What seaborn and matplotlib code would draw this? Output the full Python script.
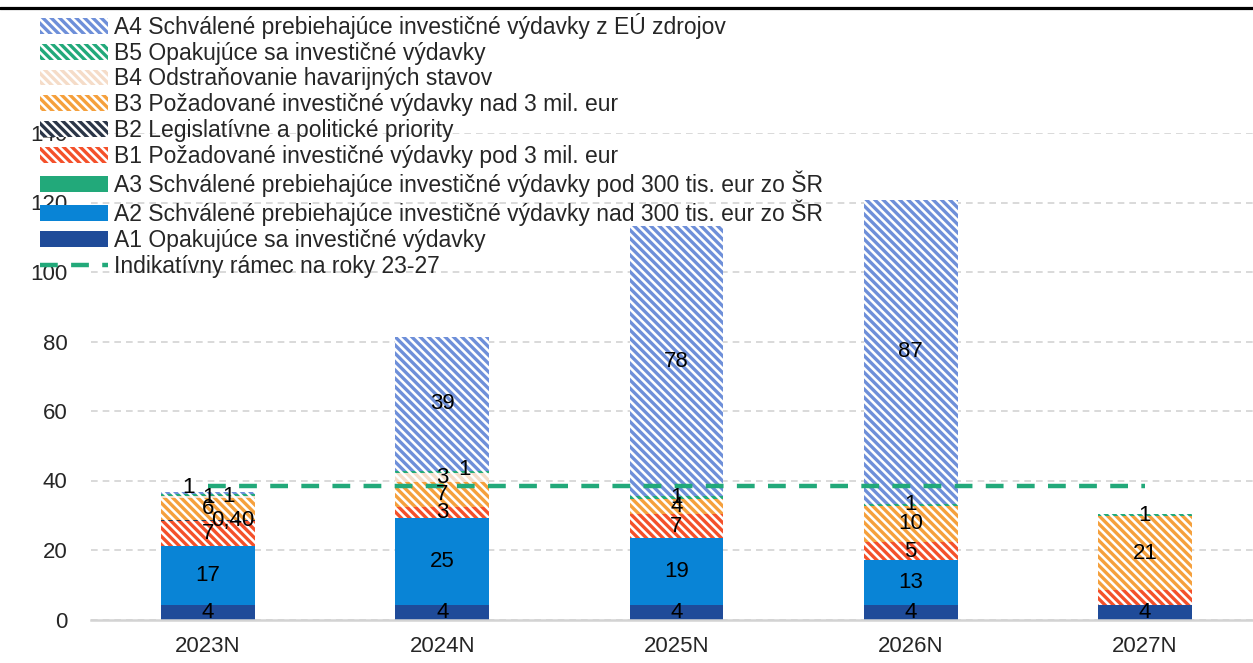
import numpy as np
import matplotlib
matplotlib.use("Agg")
import matplotlib.pyplot as plt
from matplotlib.lines import Line2D
import seaborn as sns

# Data (mil. eur), stacked bottom -> top
years = ["2023N", "2024N", "2025N", "2026N", "2027N"]

a1 = [4.2, 4.2, 4.2, 4.2, 4.2]
a2 = [16.9, 25.0, 19.3, 12.9, 0.0]
a3 = [0.0, 0.0, 0.0, 0.0, 0.0]
b1 = [7.2, 3.2, 6.8, 5.2, 4.3]
b2 = [0.4, 0.0, 0.0, 0.0, 0.0]
b3 = [6.2, 7.2, 4.4, 10.4, 21.2]
b4 = [0.6, 2.6, 0.0, 0.0, 0.0]
b5 = [0.6, 0.6, 0.7, 0.6, 0.6]
a4 = [0.6, 38.6, 77.8, 87.4, 0.0]
ramec = [38.4, 38.4, 38.4, 38.4, 38.4]

HATCH = "\\\\\\\\"
series = [
    ("A1", "A1 Opakujúce sa investičné výdavky", a1, "#1F4B99", None),
    ("A2", "A2 Schválené prebiehajúce investičné výdavky nad 300 tis. eur zo ŠR", a2, "#0984D6", None),
    ("A3", "A3 Schválené prebiehajúce investičné výdavky pod 300 tis. eur zo ŠR", a3, "#22A97A", None),
    ("B1", "B1 Požadované investičné výdavky pod 3 mil. eur", b1, "#F4502A", HATCH),
    ("B2", "B2 Legislatívne a politické priority", b2, "#2B3648", HATCH),
    ("B3", "B3 Požadované investičné výdavky nad 3 mil. eur", b3, "#F5A03C", HATCH),
    ("B4", "B4 Odstraňovanie havarijných stavov", b4, "#F5DCC8", HATCH),
    ("B5", "B5 Opakujúce sa investičné výdavky", b5, "#22A97A", HATCH),
    ("A4", "A4 Schválené prebiehajúce investičné výdavky z EÚ zdrojov", a4, "#6E8FD9", HATCH),
]
line_label = "Indikatívny rámec na roky 23-27"

# labels that sit beside the bar in the original (offsets in points)
label_offsets = {
    ("A4", "2023N"): (-14, 4),
    ("B5", "2023N"): (15, -1),
    ("B2", "2023N"): (18, 0),
    ("B5", "2024N"): (16, 2),
}
hidden_labels = {("B1", "2027N")}

sns.set_theme(style="white")
plt.rcParams["font.family"] = ["Liberation Sans", "DejaVu Sans"]
plt.rcParams["hatch.linewidth"] = 2.4

fig = plt.figure(figsize=(12.53, 6.63), dpi=100)
ax = fig.add_axes([91 / 1253, 1 - 619.5 / 663, 1171 / 1253, 486.5 / 663])

bottom = np.zeros(len(years))
handles = {}
for key, label, vals, color, hatch in series:
    vals = np.array(vals, dtype=float)
    if hatch:
        sns.barplot(x=years, y=vals, bottom=bottom, width=0.4, ax=ax, color=color,
                    saturation=1, facecolor="white", edgecolor=color, hatch=hatch,
                    linewidth=0, errorbar=None, label=label)
    else:
        sns.barplot(x=years, y=vals, bottom=bottom, width=0.4, ax=ax, color=color,
                    saturation=1, edgecolor=color, linewidth=0,
                    errorbar=None, label=label)
    handles[key] = ax.containers[-1]

    for i, (v, b) in enumerate(zip(vals, bottom)):
        if v <= 0 or (key, years[i]) in hidden_labels:
            continue
        txt = f"{v:.2f}".replace(".", ",") if v < 0.5 else str(int(np.floor(v + 0.5)))
        dx, dy = label_offsets.get((key, years[i]), (0, 0))
        ax.annotate(txt, (i, b + v / 2), xytext=(dx, dy), textcoords="offset points",
                    ha="center", va="center", fontsize=16, color="black", zorder=5)
    bottom = bottom + vals

sns.lineplot(x=years, y=ramec, ax=ax, color="#22A97A", lw=3.2,
             linestyle=(0, (4, 3)), label=line_label, sort=False, zorder=4)
line_handle = ax.lines[-1]
if ax.get_legend() is not None:
    ax.get_legend().remove()

ax.set_ylim(0, 140)
ax.set_xlim(-0.5, 4.5)
ax.set_yticks(range(0, 141, 20))
ax.set_xlabel("")
ax.set_ylabel("")
ax.yaxis.grid(True, color="#D3D3D3", linestyle=(0, (4, 3)), lw=1.2)
ax.set_axisbelow(True)
for s in ["left", "top", "right"]:
    ax.spines[s].set_visible(False)
ax.spines["bottom"].set_color("#D3D3D3")
ax.spines["bottom"].set_linewidth(1.8)
ax.tick_params(axis="y", length=0, pad=17, labelsize=16)
ax.tick_params(axis="x", length=0, pad=12, labelsize=16)

order = ["A4", "B5", "B4", "B3", "B2", "B1", "A3", "A2", "A1"]
labels = {k: l for k, l, *_ in series}
leg = fig.legend([handles[k] for k in order] + [line_handle],
                 [labels[k] for k in order] + [line_label],
                 loc="upper left", bbox_to_anchor=(40 / 1253, 1 - 13 / 663),
                 fontsize=16.5, frameon=False, borderpad=0, labelspacing=0.12,
                 handlelength=2.95, handleheight=0.68, handletextpad=0.3,
                 borderaxespad=0)
leg.set_zorder(10)

fig.add_artist(Line2D([0, 1], [1 - 8 / 663, 1 - 8 / 663], transform=fig.transFigure,
                      color="black", lw=2.3))

fig.savefig("out.png", dpi=100)
